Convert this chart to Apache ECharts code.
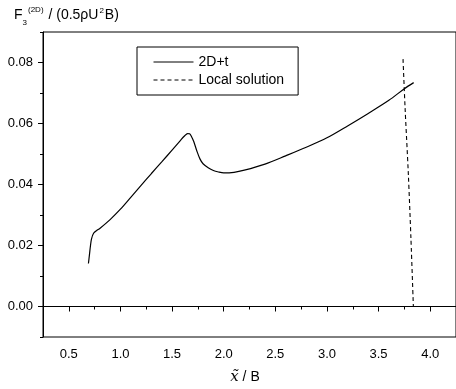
<!DOCTYPE html>
<html>
<head>
<meta charset="utf-8">
<script src="https://cdn.jsdelivr.net/npm/echarts@6/dist/echarts.min.js"></script>
<style>
  html, body { margin: 0; padding: 0; background: #fff; }
  #chart { width: 456px; height: 389px; }
</style>
</head>
<body>
<div id="chart"></div>
<script>
// 2D+t force coefficient along the hull
const flowX = [0.69, 0.70, 0.71, 0.72, 0.74, 0.77, 0.80, 0.90, 1.00, 1.10, 1.20, 1.30, 1.40, 1.50, 1.58, 1.62, 1.65, 1.67, 1.69, 1.71, 1.74, 1.77, 1.80, 1.85, 1.90, 1.95, 2.00, 2.10, 2.20, 2.40, 2.60, 2.80, 3.00, 3.20, 3.40, 3.60, 3.75, 3.84];
const flowY = [0.0141, 0.0170, 0.0200, 0.0222, 0.0240, 0.0249, 0.0256, 0.0285, 0.0319, 0.0358, 0.0397, 0.0436, 0.0474, 0.0513, 0.0544, 0.0559, 0.0567, 0.0566, 0.0556, 0.0541, 0.0510, 0.0484, 0.0468, 0.0455, 0.0446, 0.0441, 0.0438, 0.0440, 0.0447, 0.0467, 0.0494, 0.0522, 0.0553, 0.0592, 0.0633, 0.0676, 0.0714, 0.0734];

// Local solution near the transom
const localX = [3.737, 3.757, 3.788, 3.814, 3.837];
const localY = [0.0811, 0.0650, 0.0437, 0.0219, 0.0000];

// Labelled (major) tick values
const xMajorTicks = [0.5, 1.0, 1.5, 2.0, 2.5, 3.0, 3.5, 4.0];
const yMajorTicks = [0.00, 0.02, 0.04, 0.06, 0.08];

const seriesNames = ['2D+t', 'Local solution'];

const FONT = 'Liberation Sans, Arial, sans-serif';

const chart = echarts.init(document.getElementById('chart'), null, { renderer: 'canvas' });

const pair = (xs, ys) => xs.map((x, i) => [x, ys[i]]);

// Y-axis title F_3^(2D) / (0.5 rho U^2 B), laid out piece by piece
const titlePieces = [
  { text: 'F', size: 14, dy: 0 },
  { text: '3', size: 8, dy: 8 },
  { text: '(2D)', size: 8, dy: -5, gap: 1 },
  { text: ' / (0.5ρU', size: 14, dy: 0, gap: 1 },
  { text: '2', size: 8, dy: -4, gap: 1 },
  { text: 'B)', size: 14, dy: 0, gap: 1 }
];
const measureCtx = document.createElement('canvas').getContext('2d');
function buildTitle(x0, yMid) {
  const out = [];
  let x = x0;
  titlePieces.forEach(p => {
    x += p.gap || 0;
    measureCtx.font = p.size + 'px ' + FONT;
    out.push({
      type: 'text', x: x, y: yMid + p.dy, silent: true,
      style: { text: p.text, fontFamily: FONT, fontSize: p.size, fill: '#000', verticalAlign: 'middle' }
    });
    x += measureCtx.measureText(p.text).width;
  });
  return out;
}

chart.setOption({
  animation: false,
  backgroundColor: '#fff',
  grid: {
    left: 43, top: 32, width: 416, height: 305,
    show: true, borderColor: '#000', borderWidth: 1, backgroundColor: 'transparent'
  },
  legend: {
    left: 137, top: 47,
    orient: 'vertical',
    selectedMode: false,
    borderColor: '#000', borderWidth: 1,
    padding: [8, 14, 8, 16],
    itemWidth: 40, itemHeight: 14, itemGap: 4,
    itemStyle: { opacity: 0 },
    lineStyle: { width: 1 },
    textStyle: { fontFamily: FONT, fontSize: 14, color: '#000' },
    data: seriesNames
  },
  xAxis: [
    {
      type: 'value', min: 0.25, max: 4.25, position: 'bottom',
      axisLine: { lineStyle: { color: '#000', width: 1 } },
      axisTick: { customValues: xMajorTicks, length: 5, lineStyle: { color: '#000' } },
      axisLabel: { customValues: xMajorTicks, formatter: v => v.toFixed(1), margin: 11, fontFamily: FONT, fontSize: 13, color: '#000' },
      splitLine: { show: false }
    },
    {
      type: 'value', min: 0.25, max: 4.25, interval: 0.25, position: 'bottom',
      axisLine: { show: false },
      axisTick: { length: 3, lineStyle: { color: '#000' } },
      axisLabel: { show: false },
      splitLine: { show: false }
    }
  ],
  yAxis: [
    {
      type: 'value', min: -0.01, max: 0.09, position: 'left',
      axisLine: { show: true, lineStyle: { color: '#000', width: 1 } },
      axisTick: { show: true, customValues: yMajorTicks, length: 5, lineStyle: { color: '#000' } },
      axisLabel: { customValues: yMajorTicks, formatter: v => v.toFixed(2), margin: 10, fontFamily: FONT, fontSize: 13, color: '#000' },
      splitLine: { show: false }
    },
    {
      type: 'value', min: -0.01, max: 0.09, interval: 0.01, position: 'left',
      axisLine: { show: false },
      axisTick: { show: true, length: 3, lineStyle: { color: '#000' } },
      axisLabel: { show: false },
      splitLine: { show: false }
    }
  ],
  series: [
    {
      name: seriesNames[0], type: 'line', xAxisIndex: 0, yAxisIndex: 0,
      data: pair(flowX, flowY), smooth: 0.3, symbol: 'none',
      lineStyle: { color: '#000', width: 1.2 }, itemStyle: { color: '#000' }
    },
    {
      name: seriesNames[1], type: 'line', xAxisIndex: 0, yAxisIndex: 0,
      data: pair(localX, localY), smooth: 0.3, symbol: 'none',
      lineStyle: { color: '#000', width: 1.1, type: [4, 3] }, itemStyle: { color: '#000' }
    }
  ],
  graphic: buildTitle(14, 15).concat([
    {
      type: 'text', x: 245, y: 377,
      style: {
        text: '{i|x\u0303}{n| / B}',
        align: 'center', verticalAlign: 'middle',
        rich: {
          i: { fontFamily: 'DejaVu Serif, serif', fontStyle: 'italic', fontSize: 15, fill: '#000' },
          n: { fontFamily: FONT, fontSize: 14, fill: '#000' }
        }
      }
    }
  ])
});
</script>
</body>
</html>
